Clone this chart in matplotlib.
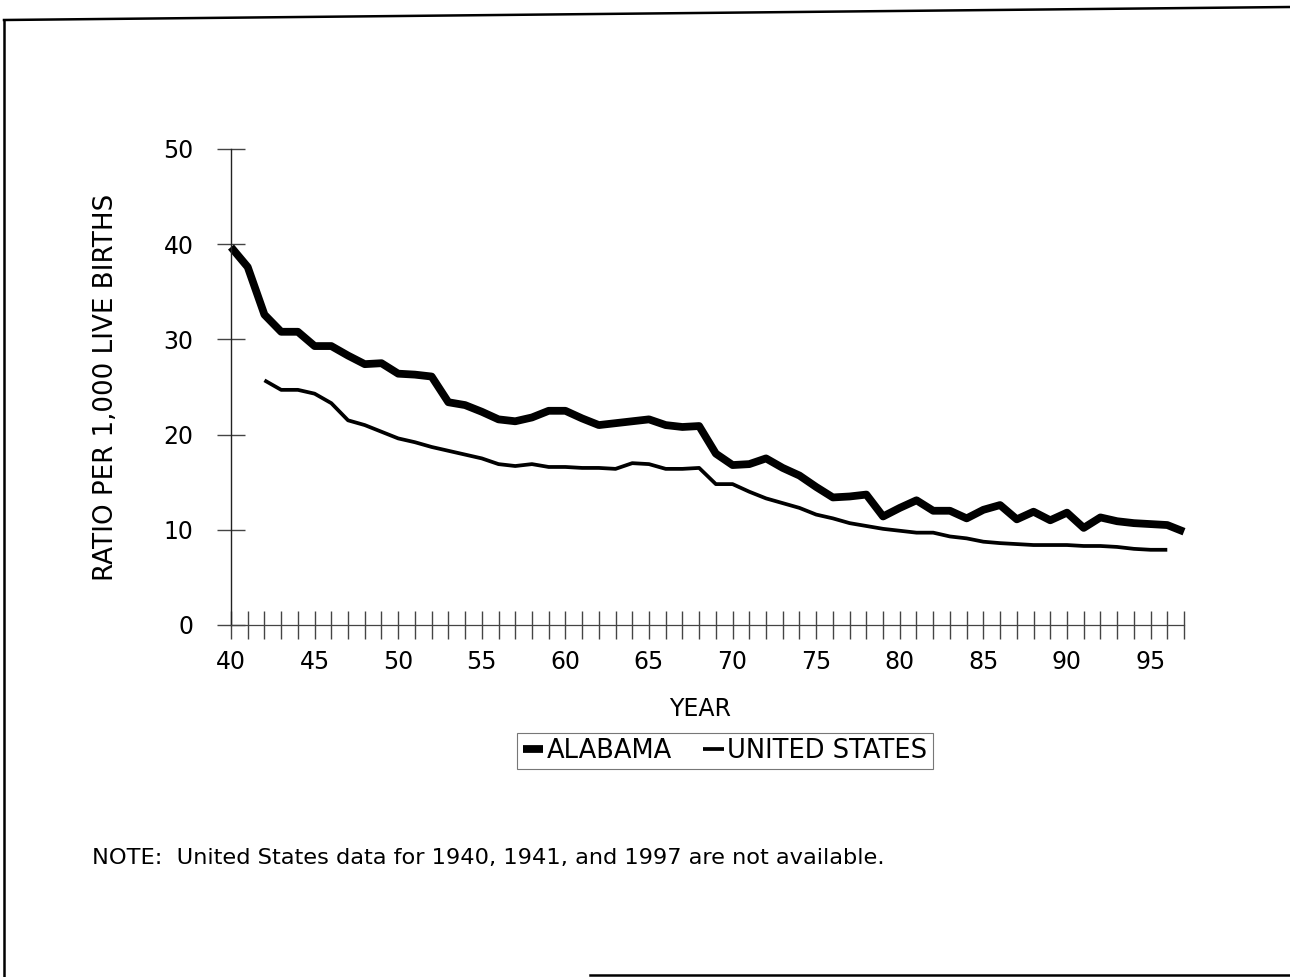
"""
Alabama vs United States ratio per 1,000 live births, 1940-1997
"""

import numpy as np
import matplotlib
matplotlib.use('Agg')
import matplotlib.pyplot as plt
from matplotlib.lines import Line2D

# the scanned lettering is wide, DejaVu Sans matches its widths better than Arial
plt.rcParams['font.family'] = ['DejaVu Sans']

## DATA

al_years = np.arange(40, 98)   # 1940 .. 1997
al_ratio = [39.7, 37.6, 32.6, 30.8, 30.8, 29.3, 29.3, 28.3, 27.4, 27.5,
            26.4, 26.3, 26.1, 23.4, 23.1, 22.4, 21.6, 21.4, 21.8, 22.5,
            22.5, 21.7, 21.0, 21.2, 21.4, 21.6, 21.0, 20.8, 20.9, 18.0,
            16.8, 16.9, 17.5, 16.5, 15.7, 14.5, 13.4, 13.5, 13.7, 11.4,
            12.3, 13.1, 12.0, 12.0, 11.2, 12.1, 12.6, 11.1, 11.9, 11.0,
            11.8, 10.2, 11.3, 10.9, 10.7, 10.6, 10.5, 9.8]

us_years = np.arange(42, 97)   # 1942 .. 1996 (1940, 1941, 1997 not available)
us_ratio = [25.7, 24.7, 24.7, 24.3, 23.3, 21.5, 21.0, 20.3, 19.6, 19.2,
            18.7, 18.3, 17.9, 17.5, 16.9, 16.7, 16.9, 16.6, 16.6, 16.5,
            16.5, 16.4, 17.0, 16.9, 16.4, 16.4, 16.5, 14.8, 14.8, 14.0,
            13.3, 12.8, 12.3, 11.6, 11.2, 10.7, 10.4, 10.1, 9.9, 9.7,
            9.7, 9.3, 9.1, 8.75, 8.6, 8.5, 8.4, 8.4, 8.4, 8.3,
            8.3, 8.2, 8.0, 7.9, 7.9]

series_labels = ['ALABAMA', 'UNITED STATES']
y_ticks = [0, 10, 20, 30, 40, 50]
x_ticks = np.arange(40, 98)
x_ticklabels = [str(v) if v % 5 == 0 else '' for v in x_ticks]

## FIGURE

W, H = 1290, 977
fig = plt.figure(figsize=(W / 100, H / 100), dpi=100)
ax = fig.add_axes([231 / W, 1 - 625 / H, (1184 - 231) / W, (625 - 149) / H])

ax.plot(al_years, al_ratio, color='black', linewidth=5.6,
        solid_joinstyle='round', solid_capstyle='butt', clip_on=False,
        label=series_labels[0])
ax.plot(us_years, us_ratio, color='black', linewidth=2.7,
        solid_joinstyle='round', solid_capstyle='butt', clip_on=False,
        label=series_labels[1])

ax.set_xlim(40, 97)
ax.set_ylim(0, 50)

for s in ['top', 'right']:
    ax.spines[s].set_visible(False)
ax.spines['left'].set_color('#222222')
ax.spines['bottom'].set_color('#444444')
ax.spines['left'].set_linewidth(1.0)
ax.spines['bottom'].set_linewidth(0.9)

ax.set_yticks(y_ticks)
ax.set_xticks(x_ticks)
ax.set_xticklabels(x_ticklabels)
ax.tick_params(axis='both', direction='inout', length=20, width=1.0,
               color='#444444', labelsize=17)
ax.tick_params(axis='y', pad=17)
ax.tick_params(axis='x', pad=8)

ax.set_ylabel('RATIO PER 1,000 LIVE BIRTHS', fontsize=18.8)
ax.yaxis.set_label_coords(-0.117, 0.5)
ax.set_xlabel('YEAR', fontsize=17)
ax.xaxis.set_label_coords(0.492, -0.152)

leg = fig.legend(loc='center', bbox_to_anchor=(725 / W, 1 - 751 / H),
                 ncol=2, fontsize=18.5, handlelength=0.8, handletextpad=0.15,
                 columnspacing=1.2, fancybox=False, framealpha=1,
                 borderpad=0.2, borderaxespad=0)
leg.get_frame().set_edgecolor('#777777')
leg.get_frame().set_linewidth(0.8)

fig.text(92 / W, 1 - 858 / H,
         'NOTE:  United States data for 1940, 1941, and 1997 are not available.',
         fontsize=16.2, va='center', ha='left')

# page border of the scanned sheet
fig.add_artist(Line2D([4 / W, 1], [1 - 20 / H, 1 - 7 / H], color='black',
                      linewidth=1.8, transform=fig.transFigure))
fig.add_artist(Line2D([4 / W, 4 / W], [1 - 20 / H, 0], color='black',
                      linewidth=1.8, transform=fig.transFigure))
fig.add_artist(Line2D([590 / W, 1], [1 - 975 / H, 1 - 975 / H], color='black',
                      linewidth=1.8, transform=fig.transFigure))

fig.savefig('out.png', dpi=100, facecolor='white')
